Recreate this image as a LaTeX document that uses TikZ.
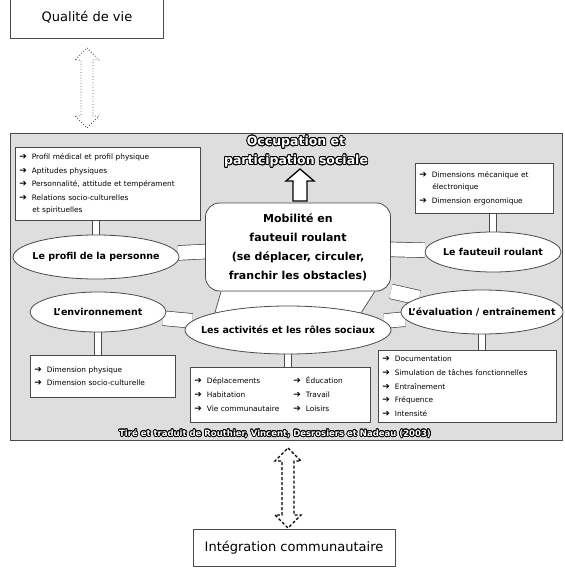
\documentclass[tikz,border=0pt]{standalone}
\usepackage{fontspec}
\setmainfont{DejaVu Sans}
\usepackage{contour}
\contourlength{0.8pt}
\usetikzlibrary{shapes.geometric,backgrounds,calc}
\definecolor{edge}{HTML}{4A4A4A}
\definecolor{paper}{HTML}{DEDEDE}
\tikzset{
  frame/.style={draw=edge, line width=0.8pt, fill=paper},
  plainbox/.style={draw=edge, line width=0.8pt, fill=white, font=\fontsize{13}{15}\selectfont},
  title/.style={text=white, font=\bfseries\fontsize{12.5}{19}\selectfont, align=center},
  credit/.style={text=white, font=\bfseries\fontsize{8.5}{10}\selectfont},
  core/.style={draw=edge, line width=0.8pt, fill=white, rounded corners=14pt, align=center,
    font=\bfseries\fontsize{11}{19}\selectfont},
  theme/.style={ellipse, draw=edge, line width=0.8pt, fill=white, inner sep=0pt,
    font=\bfseries\fontsize{9.5}{11}\selectfont},
  infobox/.style={draw=edge, line width=0.6pt, fill=white, anchor=north west, align=left,
    inner sep=4pt, font=\fontsize{7.4}{13.8}\selectfont},
  bridge/.style={draw=edge, line width=0.7pt, double=white, double distance=14pt},
  tie/.style={draw=edge, line width=0.7pt, double=white, double distance=6pt},
  bandline/.style={draw=edge, line width=0.7pt},
  hollow/.style={draw=black, fill=white, line width=1.3pt, line join=miter},
  dotarrow/.style={draw=black!70, line width=0.8pt, dotted},
  dasharrow/.style={draw=black, line width=1.3pt, dash pattern=on 3pt off 2pt}
}
\newcommand{\puce}{{\fontsize{9}{9}\selectfont ➔}\hspace{5pt}}
\newcommand{\etiq}[1]{\makebox[0pt]{#1}}

\begin{document}
\begin{tikzpicture}[x=1pt,y=-1pt]
  \useasboundingbox (0,0) rectangle (564,569);

  % cadres du haut et du bas
  \node[plainbox, minimum width=153pt, minimum height=42pt] (qualite) at (87,17) {Qualité de vie};
  \node[plainbox, minimum width=202pt, minimum height=37pt] (integration) at (294,548) {Intégration communautaire};

  % titre et coeur du modele
  \node[title] (occupation) at (296,152) {\contour{black}{Occupation et}\\\contour{black}{participation sociale}};
  \node[core, minimum width=185pt, minimum height=88pt] (mobilite) at (298,247)
    {Mobilité en\\fauteuil roulant\\(se déplacer, circuler,\\franchir les obstacles)};

  % les cinq dimensions
  \node[theme, minimum width=166pt, minimum height=44pt] (profil) at (96,257) {\etiq{Le profil de la personne}};
  \node[theme, minimum width=136pt, minimum height=40pt] (fauteuil) at (493,252) {\etiq{Le fauteuil roulant}};
  \node[theme, minimum width=136pt, minimum height=40pt] (environ) at (98,312) {\etiq{L'environnement}};
  \node[theme, minimum width=162pt, minimum height=44pt] (evaluation) at (482,312) {\etiq{L'évaluation / entraînement}};
  \node[theme, minimum width=206pt, minimum height=48pt] (activites) at (288,330) {\etiq{Les activités et les rôles sociaux}};

  % listes
  \node[infobox, text width=177pt, minimum height=73pt] (profilbox) at (15,147)
    {\puce Profil médical et profil physique\\
     \puce Aptitudes physiques\\
     \puce Personnalité, attitude et tempérament\\
     \puce Relations socio-culturelles\\[-2pt]
     \hspace*{13pt}et spirituelles};
  \node[infobox, text width=130pt, minimum height=50pt] (fauteuilbox) at (415,163)
    {\puce Dimensions mécanique et\\[-2pt]
     \hspace*{13pt}électronique\\
     \puce Dimension ergonomique};
  \node[infobox, text width=137pt, minimum height=42pt] (environbox) at (30,355)
    {\puce Dimension physique\\
     \puce Dimension socio-culturelle};
  \node[infobox, text width=172pt, minimum height=55pt] (activbox) at (190,367)
    {\begin{tabular}{@{}l@{\hspace{14pt}}l@{}}
       \puce Déplacements & \puce Éducation\\
       \puce Habitation & \puce Travail\\
       \puce Vie communautaire & \puce Loisirs
     \end{tabular}};
  \node[infobox, text width=170pt, minimum height=72pt] (evalbox) at (378,350)
    {\puce Documentation\\
     \puce Simulation de tâches fonctionnelles\\
     \puce Entraînement\\
     \puce Fréquence\\
     \puce Intensité};

  \node[credit] (source) at (275,434) {\contour{black}{Tiré et traduit de Routhier, Vincent, Desrosiers et Nadeau (2003)}};

  % fleches
  \draw[dotarrow] (87,48) -- (99,60) -- (93,60) -- (93,116) -- (99,116) -- (87,128)
    -- (75,116) -- (81,116) -- (81,60) -- (75,60) -- cycle;
  \draw[hollow] (300,169) -- (314,181) -- (307,181) -- (307,201) -- (293,201)
    -- (293,181) -- (286,181) -- cycle;
  \draw[dasharrow] (288,448) -- (301,461) -- (294,461) -- (294,515) -- (301,515) -- (288,528)
    -- (275,515) -- (282,515) -- (282,461) -- (275,461) -- cycle;

  \begin{scope}[on background layer]
    \draw[frame] (10,133) rectangle (562,440);
    % liens entre les dimensions
    \coordinate (bandL) at ($(mobilite.south west)+(16,0)$);
    \coordinate (bandR) at ($(mobilite.south east)+(-16,0)$);
    \fill[white] (bandL) -- (bandR) -- (activites.north east) -- (activites.north west) -- cycle;
    \draw[bandline] (bandL) -- (activites.north west);
    \draw[bandline] (bandR) -- (activites.north east);
    \draw[bridge] (profil) -- (mobilite);
    \draw[bridge] (fauteuil) -- (mobilite);
    \draw[bridge] (environ) -- (activites);
    \draw[bridge] (activites) -- (evaluation);
    \draw[bridge] (mobilite.south east) -- (evaluation);
    % liens vers les listes
    \draw[tie] (profil.north) -- (profil.north |- profilbox.south);
    \draw[tie] (fauteuil.north) -- (fauteuil.north |- fauteuilbox.south);
    \draw[tie] (environ.south) -- (environ.south |- environbox.north);
    \draw[tie] (activites.south) -- (activites.south |- activbox.north);
    \draw[tie] (evaluation.south) -- (evaluation.south |- evalbox.north);
  \end{scope}
\end{tikzpicture}
\end{document}
